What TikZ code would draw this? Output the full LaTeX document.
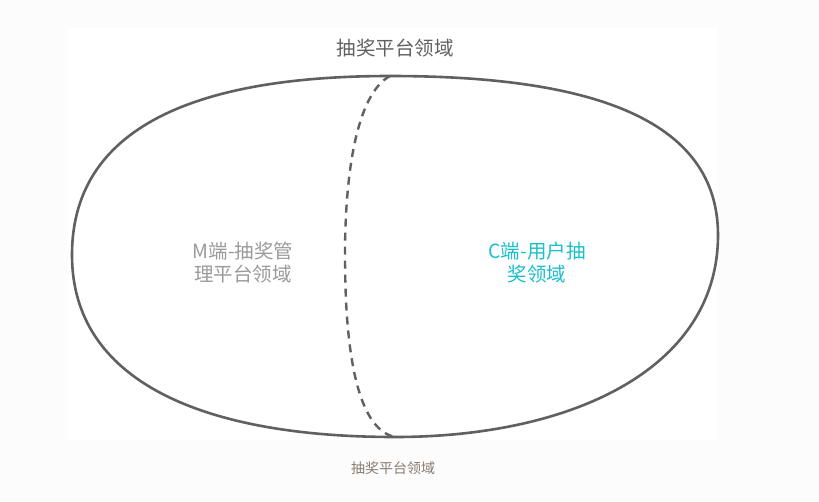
\documentclass[tikz,border=0pt]{standalone}
\usepackage{fontspec}
\newfontfamily\cjk{Noto Sans CJK SC}
\definecolor{edge}{HTML}{606060}
\definecolor{mgray}{HTML}{9A9A9A}
\definecolor{ccyan}{HTML}{19BFCC}
\definecolor{caption}{HTML}{8A7A70}
\tikzset{lbl/.style={font=\cjk\fontsize{19.5}{23}\selectfont,align=center,inner sep=0pt}}
\begin{document}
\begin{tikzpicture}[x=1pt,y=-1pt]
\useasboundingbox (0,0) rectangle (819,501);
\fill[black!1] (0,0) rectangle (819,501);
\fill[white] (68,28) rectangle (718,440);
\coordinate (top) at (390,76);
\coordinate (bot) at (395,437);
\draw[edge,line width=2.6pt] (top) .. controls (570,76) and (718,110) .. (718,235)
  .. controls (718,370) and (570,437) .. (bot)
  .. controls (200,437) and (72,380) .. (72,255)
  .. controls (72,120) and (210,76) .. (top);
\draw[edge,line width=2.4pt,dash pattern=on 8pt off 6pt] (top) .. controls (355,95) and (345,180) .. (345,255)
  .. controls (345,370) and (362,430) .. (bot);
\node[lbl,text=edge] (title) at (395,48) {抽奖平台领域};
\node[lbl,text=mgray] (m) at (243,263) {M端-抽奖管\\理平台领域};
\node[lbl,text=ccyan] (c) at (537,263) {C端-用户抽\\奖领域};
\node[lbl,text=caption,font=\cjk\fontsize{14}{17}\selectfont] (cap) at (393,468) {抽奖平台领域};
\end{tikzpicture}
\end{document}
